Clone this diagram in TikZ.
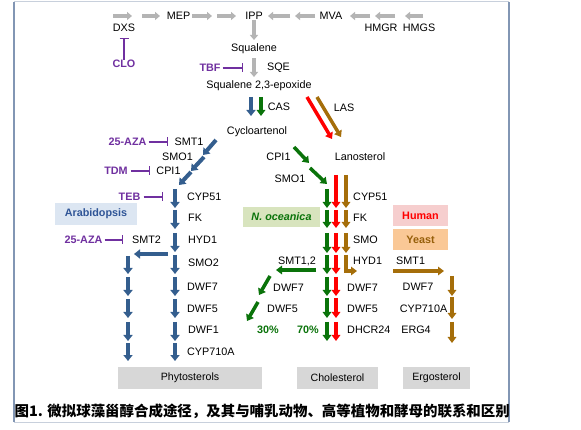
\documentclass[tikz,border=0pt]{standalone}
\usepackage{fontspec}
\setmainfont{Liberation Sans}
\newfontfamily\cjk{Noto Sans CJK SC}
\usetikzlibrary{arrows.meta}
\definecolor{cgray}{RGB}{180,180,180}
\definecolor{cblue}{RGB}{52,94,142}
\definecolor{cgreen}{RGB}{10,115,10}
\definecolor{cred}{RGB}{255,0,0}
\definecolor{cbrown}{RGB}{165,110,10}
\definecolor{cpurple}{RGB}{112,48,160}
\definecolor{fblue}{RGB}{220,230,242}
\definecolor{fgreen}{RGB}{216,228,190}
\definecolor{fpink}{RGB}{246,206,206}
\definecolor{forange}{RGB}{250,200,150}
\definecolor{fgray}{RGB}{215,215,215}
\definecolor{txblue}{RGB}{47,85,151}
\definecolor{txbrown}{RGB}{150,95,10}
\definecolor{frameA}{RGB}{130,150,180}
\definecolor{frameB}{RGB}{200,208,220}
\newcommand\myarr[6]{\coordinate (#1s) at (#3,#4); \coordinate (#1e) at (#5,#6); \draw[#2] (#1s) -- (#1e);}
\begin{document}
\begin{tikzpicture}[x=1pt,y=-1pt,
  every node/.style={font=\fontsize{10.8}{12}\selectfont, inner sep=0pt},
  garr/.style={cgray, line width=3.5pt, -{Triangle[width=8pt,length=5pt]}},
  barr/.style={cblue, line width=4pt, -{Triangle[width=9pt,length=6pt]}},
  gnarr/.style={cgreen, line width=3.5pt, -{Triangle[width=8.5pt,length=6pt]}},
  rarr/.style={cred, line width=3.5pt, -{Triangle[width=8.5pt,length=6pt]}},
  brarr/.style={cbrown, line width=3.5pt, -{Triangle[width=8.5pt,length=6pt]}},
  inh/.style={cpurple, line width=1.2pt, -{Bar[width=9pt,line width=1.4pt]}},
  inhtxt/.style={text=cpurple, font=\fontsize{10.8}{12}\selectfont\bfseries},
  tagbox/.style={font=\fontsize{10.8}{12}\selectfont\bfseries},
  endbox/.style={fill=fgray, minimum height=22pt, font=\fontsize{10.6}{12}\selectfont}
]
\useasboundingbox (0,0) rectangle (581,430);
\fill[white] (0,0) rectangle (581,430);
% frame
\draw[frameB, line width=1pt] (14,2) -- (509,2);
\draw[frameB, line width=1pt] (14,422) -- (509,422);
\draw[frameA, line width=1.3pt] (14,2) -- (14,422);
\draw[frameA, line width=1.3pt] (509,2) -- (509,422);

% ---- top row
\node (dxs) at (124,28) {DXS};
\node (mep) at (178.5,16) {MEP};
\node (ipp) at (254,16) {IPP};
\node (mva) at (331,16) {MVA};
\node (hmgr) at (381,28) {HMGR};
\node (hmgs) at (419,28) {HMGS};
\myarr{g1}{garr}{113}{16}{132}{16}
\myarr{g2}{garr}{142}{16}{160}{16}
\myarr{g3}{garr}{192}{16}{212}{16}
\myarr{g4}{garr}{217}{16}{236}{16}
\myarr{g5}{garr}{290}{16}{268}{16}
\myarr{g6}{garr}{315}{16}{295}{16}
\myarr{g7}{garr}{370}{16}{350}{16}
\myarr{g8}{garr}{395}{16}{375}{16}
\myarr{g9}{garr}{423}{16}{405}{16}
\node[inhtxt] (clo) at (124,64) {CLO};
\coordinate (clobar) at (124,38);
\draw[inh] (clo.north) -- (clobar);
\node (squa) at (254,49) {Squalene};
\coordinate (ippd) at (254,40);
\draw[garr] (ipp.south) -- (ippd);
\node (sqe) at (278.5,68) {SQE};
\node[inhtxt] (tbf) at (210,68) {TBF};
\coordinate (tbfbar) at (243,68);
\draw[inh] (tbf.east) ++(2,0) -- (tbfbar);
\node (epox) at (259,86) {Squalene 2,3-epoxide};
\coordinate (sqd) at (254,77);
\draw[garr] (squa.south) ++(0,4) -- (sqd);

% ---- CAS / LAS
\node (cas) at (279,107) {CAS};
\node (las) at (344,108) {LAS};
\myarr{cb}{barr}{251}{97}{251}{116}
\myarr{cg}{gnarr}{261}{97}{261}{116}
\myarr{lr}{rarr}{307}{97}{332}{139}
\myarr{lb}{brarr}{317}{97}{341}{137}
\node (cyclo) at (257,132) {Cycloartenol};
\node (lano) at (360,157) {Lanosterol};

% ---- green diagonal
\node (gcpi) at (278.5,157) {CPI1};
\node (gsmo) at (290,179) {SMO1};
\myarr{gd1}{gnarr}{294}{147}{309}{163}
\myarr{gd2}{gnarr}{310}{168}{327}{184}

% ---- blue diagonal and inhibitors
\node[inhtxt] (aza1) at (127.5,142) {25-AZA};
\node (smt1) at (189,142) {SMT1};
\node (bsmo) at (177.5,157) {SMO1};
\node[inhtxt] (tdm) at (116,171) {TDM};
\node (bcpi) at (168.5,171) {CPI1};
\node[inhtxt] (teb) at (129.5,197) {TEB};
\coordinate (aza1b) at (168,142);
\draw[inh] (aza1.east) ++(2,0) -- (aza1b);
\coordinate (tdmb) at (150,171);
\draw[inh] (tdm.east) ++(3,0) -- (tdmb);
\coordinate (tebb) at (163,197);
\draw[inh] (teb.east) ++(3,0) -- (tebb);
\myarr{bd1}{barr}{216}{140}{203}{155}
\myarr{bd2}{barr}{204}{157}{191}{171}
\myarr{bd3}{barr}{191}{172}{179}{185}

% ---- blue main column
\node[anchor=west] (bcyp) at (187,197) {CYP51};
\node[anchor=west] (bfk) at (188,218) {FK};
\node[anchor=west] (bhyd) at (188,240) {HYD1};
\node[anchor=west] (bsmo2) at (188,263) {SMO2};
\node[anchor=west] (bdwf7) at (187,287) {DWF7};
\node[anchor=west] (bdwf5) at (187,309) {DWF5};
\node[anchor=west] (bdwf1) at (188,330) {DWF1};
\node[anchor=west] (bcyp710) at (187,352) {CYP710A};
\myarr{bv1}{barr}{175}{189}{175}{208}
\myarr{bv2}{barr}{175}{210}{175}{229}
\myarr{bv3}{barr}{175}{233}{175}{252}
\myarr{bv4}{barr}{175}{255}{175}{274}
\myarr{bv5}{barr}{175}{277}{175}{296}
\myarr{bv6}{barr}{175}{299}{175}{318}
\myarr{bv7}{barr}{175}{322}{175}{341}
\myarr{bv8}{barr}{175}{343}{175}{361}
% left blue column
\node (smt2) at (146.5,240) {SMT2};
\node[inhtxt] (aza2) at (83.5,240) {25-AZA};
\coordinate (aza2b) at (123,240);
\draw[inh] (aza2.east) ++(2,0) -- (aza2b);
\myarr{bh}{barr}{168}{254}{134}{254}
\myarr{bl4}{barr}{128}{256}{128}{274}
\myarr{bl5}{barr}{128}{277}{128}{296}
\myarr{bl6}{barr}{128}{299}{128}{318}
\myarr{bl7}{barr}{128}{322}{128}{341}
\myarr{bl8}{barr}{128}{343}{128}{361}
\node[tagbox, fill=fblue, text=txblue, minimum width=82pt, minimum height=22pt] (arab) at (96,214) {Arabidopsis};

% ---- central columns
\node[tagbox, fill=fgreen, text=cgreen, minimum width=77pt, minimum height=20pt] (nocean) at (281.5,217) {\itshape N. oceanica};
\node[anchor=west] (ccyp) at (353,197) {CYP51};
\node[anchor=west] (cfk) at (353,218) {FK};
\node[anchor=west] (csmo) at (353,240) {SMO};
\node[anchor=west] (chyd) at (353,261) {HYD1};
\node[anchor=west] (cdwf7) at (347,288) {DWF7};
\node[anchor=west] (cdwf5) at (347,309) {DWF5};
\node[anchor=west] (cdhcr) at (347,330) {DHCR24};
% green
\myarr{gv1}{gnarr}{327}{189}{327}{208}
\myarr{gv2}{gnarr}{327}{210}{327}{228}
\myarr{gv3}{gnarr}{327}{233}{327}{253}
\myarr{gv4}{gnarr}{327}{255}{327}{274}
\myarr{gv5}{gnarr}{327}{277}{327}{296}
\myarr{gv6}{gnarr}{327}{298}{327}{318}
\myarr{gv7}{gnarr}{327}{322}{327}{341}
% red
\myarr{rv1}{rarr}{336}{175}{336}{208}
\myarr{rv2}{rarr}{336}{210}{336}{228}
\myarr{rv3}{rarr}{336}{233}{336}{253}
\myarr{rv4}{rarr}{336}{255}{336}{274}
\myarr{rv5}{rarr}{336}{277}{336}{296}
\myarr{rv6}{rarr}{336}{298}{336}{318}
\myarr{rv7}{rarr}{336}{322}{336}{341}
% brown
\myarr{wv1}{brarr}{346}{175}{346}{208}
\myarr{wv2}{brarr}{346}{210}{346}{228}
\myarr{wv3}{brarr}{346}{233}{346}{253}
\coordinate (wv4s) at (346,255);
\coordinate (wv4e) at (357,271);
\draw[brarr] (wv4s) |- (wv4e);
% green branch
\node (smt12) at (297,261) {SMT1,2};
\myarr{gh}{gnarr}{316}{270}{276}{270}
\node[anchor=west] (gdwf7) at (273,288) {DWF7};
\node[anchor=west] (gdwf5) at (267,309) {DWF5};
\myarr{gb1}{gnarr}{270}{276}{259}{295}
\myarr{gb2}{gnarr}{258}{302}{247}{321}
\node[text=cgreen, font=\fontsize{10.8}{12}\selectfont\bfseries] (p30) at (268,330) {30\%};
\node[text=cgreen, font=\fontsize{10.8}{12}\selectfont\bfseries] (p70) at (308,330) {70\%};

% ---- right (yeast)
\node[tagbox, fill=fpink, text=cred, minimum width=55pt, minimum height=21pt] (human) at (420.5,215.5) {Human};
\node[tagbox, fill=forange, text=txbrown, minimum width=55pt, minimum height=21pt] (yeast) at (420.5,239.5) {Yeast};
\node[anchor=west] (ysmt) at (396,261) {SMT1};
\myarr{yh}{brarr}{393}{271}{444}{271}
\node (ydwf7) at (418,287) {DWF7};
\node (ycyp) at (423.5,309) {CYP710A};
\node (yerg) at (416,330) {ERG4};
\myarr{yv1}{brarr}{452}{276}{452}{296}
\myarr{yv2}{brarr}{452}{297}{452}{319}
\myarr{yv3}{brarr}{452}{322}{452}{343}

% ---- end products
\node[endbox, minimum width=144pt] (phyto) at (190,378) {Phytosterols};
\node[endbox, minimum width=81pt] (chol) at (337.5,378) {Cholesterol};
\node[endbox, minimum width=67pt] (ergo) at (436.5,378) {Ergosterol};

% ---- caption
\node[anchor=west, font=\cjk\bfseries\fontsize{14.45}{16}\selectfont] (cap) at (14.5,411) {图1. 微拟球藻甾醇合成途径，及其与哺乳动物、高等植物和酵母的联系和区别};
\end{tikzpicture}
\end{document}
